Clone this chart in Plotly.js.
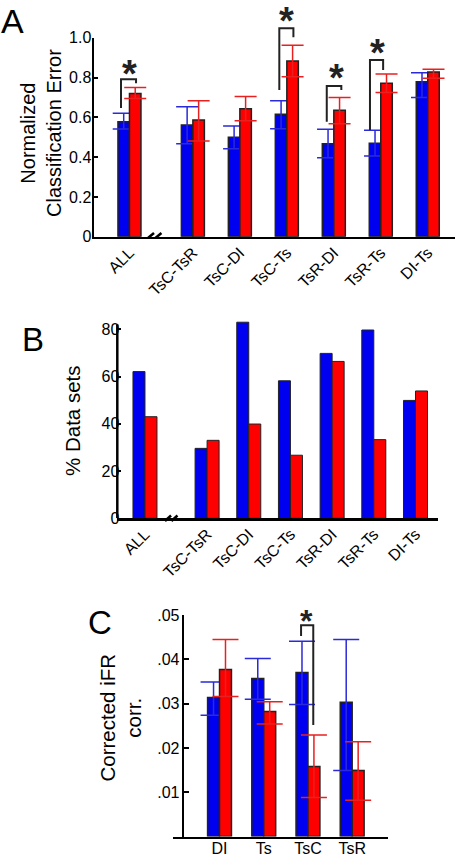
<!DOCTYPE html>
<html>
<head>
<meta charset="utf-8">
<script src="https://cdn.plot.ly/plotly-3.0.1.min.js"></script>
<style>html,body{margin:0;padding:0;background:#fff;}#chart{width:462px;height:855px;}</style>
</head>
<body>
<div id="chart"></div>
<script>
// ---------------- DATA ----------------
const catsAB = ['ALL', 'TsC-TsR', 'TsC-DI', 'TsC-Ts', 'TsR-DI', 'TsR-Ts', 'DI-Ts'];

// Panel A: normalized classification error (bar, upper cap, lower cap)
const errBlue   = [0.578, 0.561, 0.500, 0.615, 0.467, 0.469, 0.779];
const errBlueHi = [0.620, 0.653, 0.556, 0.683, 0.540, 0.535, 0.824];
const errBlueLo = [0.541, 0.467, 0.442, 0.543, 0.397, 0.406, 0.700];
const errRed    = [0.720, 0.586, 0.643, 0.883, 0.635, 0.771, 0.828];
const errRedHi  = [0.750, 0.683, 0.704, 0.962, 0.699, 0.818, 0.841];
const errRedLo  = [0.695, 0.481, 0.583, 0.804, 0.568, 0.724, 0.796];

// Panel B: % data sets
const pctBlue = [62.1, 29.6, 83.0, 58.2, 69.8, 79.7, 49.9];
const pctRed  = [43.0, 33.0, 39.9, 26.7, 66.4, 33.3, 53.9];

// Panel C: corrected iFR corr.
const catsC = ['DI', 'Ts', 'TsC', 'TsR'];
const ifrBlue   = [0.0314, 0.0357, 0.0370, 0.0303];
const ifrBlueHi = [0.0349, 0.0402, 0.0441, 0.0445];
const ifrBlueLo = [0.0274, 0.0310, 0.0298, 0.0149];
const ifrRed    = [0.0377, 0.0282, 0.0158, 0.0149];
const ifrRedHi  = [0.0445, 0.0304, 0.0229, 0.0214];
const ifrRedLo  = [0.0316, 0.0254, 0.0088, 0.0082];

// tick labels
const tickValsA = [0, 0.2, 0.4, 0.6, 0.8, 1.0];
const tickTextA = ['0', '0.2', '0.4', '0.6', '0.8', '1.0'];
const tickValsB = [0, 20, 40, 60, 80];
const tickTextB = ['0', '20', '40', '60', '80'];
const tickValsC = [0.01, 0.02, 0.03, 0.04, 0.05];
const tickTextC = ['.01', '.02', '.03', '.04', '.05'];

// significant comparisons
const sigA = ['ALL', 'TsC-Ts', 'TsR-DI', 'TsR-Ts'];
const sigC = ['TsC'];

// ---------------- LAYOUT HELPERS ----------------
const W = 462, H = 855;
const px = v => v / W;
const py = v => 1 - v / H;

const BLUE = '#0000f0', RED = '#ff0000';
const BLUE_ERR = '#2a2ad8', RED_ERR = '#e82020';
const OUTLINE = '#222222';
const FONT = 'Liberation Sans, Arial, Helvetica, sans-serif';

// group positions (a gap after ALL)
const GAP_A = 1.35, GAP_B = 1.49;
const posA = catsAB.map((c, i) => i === 0 ? 0 : GAP_A + (i - 1));
const posB = catsAB.map((c, i) => i === 0 ? 0 : GAP_B + (i - 1));
const posC = catsC.map((c, i) => i);

const bwA = 0.245, bwB = 0.288, bwC = 0.27;

function diff(a, b) { return a.map((v, i) => v - b[i]); }

function barPair(x, yb, yr, w, xa, ya, lw, errs, capw) {
  const tb = {
    type: 'bar', x: x, y: yb, width: w, offset: -w, xaxis: xa, yaxis: ya,
    marker: {color: BLUE, line: {color: OUTLINE, width: lw}}, hoverinfo: 'skip'
  };
  const tr = {
    type: 'bar', x: x, y: yr, width: w, offset: 0, xaxis: xa, yaxis: ya,
    marker: {color: RED, line: {color: OUTLINE, width: lw}}, hoverinfo: 'skip'
  };
  if (errs) {
    tb.error_y = {type: 'data', symmetric: false, array: diff(errs.bh, yb), arrayminus: diff(yb, errs.bl),
                  color: BLUE_ERR, thickness: 1.5, width: capw};
    tr.error_y = {type: 'data', symmetric: false, array: diff(errs.rh, yr), arrayminus: diff(yr, errs.rl),
                  color: RED_ERR, thickness: 1.5, width: capw};
  }
  return [tb, tr];
}

const data = [
  ...barPair(posA, errBlue, errRed, bwA, 'x', 'y', 1.5,
             {bh: errBlueHi, bl: errBlueLo, rh: errRedHi, rl: errRedLo}, 11),
  ...barPair(posB, pctBlue, pctRed, bwB, 'x2', 'y2', 1.0, null, 0),
  ...barPair(posC, ifrBlue, ifrRed, bwC, 'x3', 'y3', 1.5,
             {bh: ifrBlueHi, bl: ifrBlueLo, rh: ifrRedHi, rl: ifrRedLo}, 13)
];

// bracket geometry (relative to group centre; heights in data units)
const bracketA = {
  'ALL':    {l: -0.18, r: 0.14, top: 0.791, lb: 0.647, rb: 0.771, sx: 0.01, sy: 0.85},
  'TsC-Ts': {l: -0.16, r: 0.14, top: 1.047, lb: 0.737, rb: 1.002, sx: -0.005, sy: 1.114},
  'TsR-DI': {l: -0.15, r: 0.16, top: 0.757, lb: 0.578, rb: 0.737, sx: 0.06, sy: 0.829},
  'TsR-Ts': {l: -0.23, r: 0.05, top: 0.888, lb: 0.536, rb: 0.838, sx: -0.06, sy: 0.955}
};
const bracketC = {
  'TsC': {l: -0.156, r: 0.12, top: 0.0477, lb: 0.04525, rb: 0.0252, sx: -0.03, sy: 1.0}
};

const shapes = [];
const annotations = [];
const LINE = {color: '#222222', width: 2};

// panel A range is [0,1], so 'y domain' units equal data units (lets marks sit above the axis top)
sigA.forEach(c => {
  const g = posA[catsAB.indexOf(c)], b = bracketA[c];
  shapes.push({type: 'path', xref: 'x', yref: 'y domain', line: LINE,
    path: `M ${g + b.l},${b.lb} L ${g + b.l},${b.top} L ${g + b.r},${b.top} L ${g + b.r},${b.rb}`});
  annotations.push({xref: 'x', yref: 'y domain', x: g + b.sx, y: b.sy, text: '<b>*</b>', showarrow: false,
    font: {family: FONT, size: 38, color: '#222'}, yanchor: 'middle', yshift: -6});
});
sigC.forEach(c => {
  const g = posC[catsC.indexOf(c)], b = bracketC[c];
  shapes.push({type: 'path', xref: 'x3', yref: 'y3', line: LINE,
    path: `M ${g + b.l},${b.lb} L ${g + b.l},${b.top} L ${g + b.r},${b.top} L ${g + b.r},${b.rb}`});
  annotations.push({xref: 'x3', yref: 'y3 domain', x: g + b.sx, y: b.sy, text: '<b>*</b>', showarrow: false,
    font: {family: FONT, size: 32, color: '#222'}, yanchor: 'middle', yshift: -6});
});

// axis-break marks
function breakMarks(xa, yaDom, x1, x2, dx, dyLo, dyHi) {
  [x1, x2].forEach(x0 => shapes.push({type: 'line', xref: xa, yref: yaDom,
    x0: x0, x1: x0 + dx, y0: dyLo, y1: dyHi, line: {color: '#000', width: 2.5}}));
}
breakMarks('x', 'y domain', 0.394, 0.553, 0.128, -0.0065, 0.0186);
breakMarks('x2', 'y2 domain', 0.48, 0.635, 0.145, -0.0136, 0.0141);

// B spine stops a little above 80
shapes.push({type: 'line', xref: 'x2 domain', yref: 'y2', x0: 0, x1: 0, y0: 0, y1: 82,
  line: {color: '#000', width: 2.5}});

// panel letters and axis titles
annotations.push(
  {xref: 'paper', yref: 'paper', x: px(-1), y: py(21), text: 'A', showarrow: false, xanchor: 'left', yanchor: 'middle',
   font: {family: FONT, size: 34, color: '#000'}},
  {xref: 'paper', yref: 'paper', x: px(20), y: py(339), text: 'B', showarrow: false, xanchor: 'left', yanchor: 'middle',
   font: {family: FONT, size: 33, color: '#000'}},
  {xref: 'paper', yref: 'paper', x: px(86), y: py(622), text: 'C', showarrow: false, xanchor: 'left', yanchor: 'middle',
   font: {family: FONT, size: 33, color: '#000'}},
  {xref: 'paper', yref: 'paper', x: px(40.5), y: py(133.5), text: 'Normalized<br>Classification Error', showarrow: false,
   textangle: -90, xanchor: 'center', yanchor: 'middle', font: {family: FONT, size: 20, color: '#000'}},
  {xref: 'paper', yref: 'paper', x: px(72), y: py(421), text: '% Data sets', showarrow: false,
   textangle: -90, xanchor: 'center', yanchor: 'middle', font: {family: FONT, size: 20.5, color: '#000'}},
  {xref: 'paper', yref: 'paper', x: px(120), y: py(717.5), text: 'Corrected iFR<br>corr.', showarrow: false,
   textangle: -90, xanchor: 'center', yanchor: 'middle', font: {family: FONT, size: 20.5, color: '#000'}}
);

const tickFont = {family: FONT, size: 16, color: '#000'};

const layout = {
  width: W, height: H, autosize: false,
  margin: {l: 0, r: 0, t: 0, b: 0, pad: 0},
  paper_bgcolor: '#fff', plot_bgcolor: '#fff',
  showlegend: false, barmode: 'overlay',
  font: {family: FONT, color: '#000'},
  xaxis: {domain: [px(94), px(455)], range: [-0.755, 6.93], anchor: 'y',
    tickvals: posA, ticktext: catsAB, tickangle: -45, tickfont: tickFont, ticklabelstandoff: -2,
    showline: true, linecolor: '#000', linewidth: 2.5, ticks: '', showgrid: false, zeroline: false, fixedrange: true},
  yaxis: {domain: [py(236.7), py(37.7)], range: [0, 1], anchor: 'x',
    tickvals: tickValsA, ticktext: tickTextA, tickfont: tickFont, ticklabelstandoff: -3,
    showline: true, linecolor: '#000', linewidth: 2.5, ticks: 'inside', ticklen: 4, tickwidth: 2, tickcolor: '#000',
    showgrid: false, zeroline: false, fixedrange: true},
  xaxis2: {domain: [px(117.3), px(438)], range: [-0.664, 7.03], anchor: 'y2',
    tickvals: posB, ticktext: catsAB, tickangle: -45, tickfont: tickFont, ticklabelstandoff: -2,
    showline: true, linecolor: '#000', linewidth: 2.5, ticks: '', showgrid: false, zeroline: false, fixedrange: true},
  yaxis2: {domain: [py(518.3), py(319.85)], range: [0, 84], anchor: 'x2',
    tickvals: tickValsB, ticktext: tickTextB, tickfont: tickFont, ticklabelstandoff: -3,
    showline: false, ticks: 'inside', ticklen: 4, tickwidth: 2, tickcolor: '#000',
    showgrid: false, zeroline: false, fixedrange: true},
  xaxis3: {domain: [px(173), px(388)], range: [-1.052, 3.81], anchor: 'y3',
    tickvals: posC, ticktext: catsC, tickangle: 0, tickfont: tickFont, ticklabelstandoff: -4,
    showline: true, linecolor: '#000', linewidth: 2.5, ticks: '', showgrid: false, zeroline: false, fixedrange: true},
  yaxis3: {domain: [py(836.6), py(615)], range: [0, 0.05], anchor: 'free', position: px(182.7),
    tickvals: tickValsC, ticktext: tickTextC, tickfont: tickFont, ticklabelstandoff: -1,
    showline: true, linecolor: '#000', linewidth: 2.5, ticks: 'inside', ticklen: 5, tickwidth: 2, tickcolor: '#000',
    showgrid: false, zeroline: false, fixedrange: true},
  shapes: shapes,
  annotations: annotations
};

Plotly.newPlot('chart', data, layout, {staticPlot: true, displayModeBar: false});
</script>
</body>
</html>
